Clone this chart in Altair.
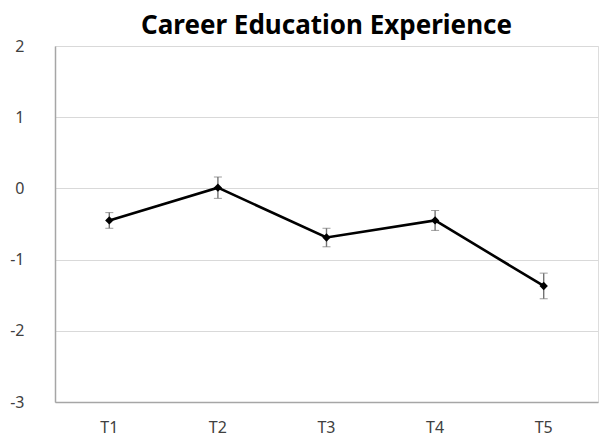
import altair as alt
import pandas as pd

# Mean scores per time point with their standard-error half-widths
times = ["T1", "T2", "T3", "T4", "T5"]
means = [-0.45, 0.01, -0.69, -0.45, -1.37]
errors = [0.11, 0.15, 0.13, 0.14, 0.18]

df = pd.DataFrame({
    "time": times,
    "mean": means,
    "lo": [m - e for m, e in zip(means, errors)],
    "hi": [m + e for m, e in zip(means, errors)],
})

FONT = "Noto Sans"

x = alt.X(
    "time:N",
    sort=times,
    title=None,
    scale=alt.Scale(paddingInner=0, paddingOuter=0),
    axis=alt.Axis(
        labelAngle=0, labelFont=FONT, labelFontSize=16, labelColor="#404040",
        labelPadding=17, ticks=False, domainColor="#a6a6a6", domainWidth=1.5,
        grid=False,
    ),
)
y_scale = alt.Scale(domain=[-3, 2], nice=False, zero=False)
y_axis = alt.Axis(
    values=[-3, -2, -1, 0, 1, 2], labelExpr="datum.value",
    labelFont=FONT, labelFontSize=16,
    labelColor="#404040", labelPadding=31, ticks=False, domainColor="#a6a6a6",
    domainWidth=1.5, gridColor="#d9d9d9", gridWidth=1.2,
)

base = alt.Chart(df)

err = base.mark_errorbar(
    ticks=alt.MarkConfig(size=8, color="#737373", strokeWidth=1.4),
    rule=alt.MarkConfig(color="#737373", strokeWidth=1.4),
).encode(
    x=x,
    y=alt.Y("lo:Q", scale=y_scale, axis=y_axis, title=None),
    y2="hi:Q",
)

line = base.mark_line(color="black", strokeWidth=2.6).encode(
    x=x, y=alt.Y("mean:Q", scale=y_scale, axis=y_axis, title=None)
)

pts = base.mark_point(
    shape="diamond", filled=True, color="black", size=70, opacity=1
).encode(x=x, y=alt.Y("mean:Q", scale=y_scale, axis=y_axis, title=None))

chart = (
    alt.layer(err, line, pts)
    .properties(
        width=543,
        height=356,
        autosize=alt.AutoSizeParams(type="none"),
        padding={"left": 55, "top": 46, "right": 2, "bottom": 34},
        title=alt.TitleParams(
            "Career Education Experience", font=FONT, fontSize=26,
            fontWeight="bold", color="black", anchor="middle", offset=-1,
        ),
    )
    .configure_view(stroke=None)
    .configure(background="white")
)

chart.save("out.html", embed_options={"renderer": "svg", "actions": False})
